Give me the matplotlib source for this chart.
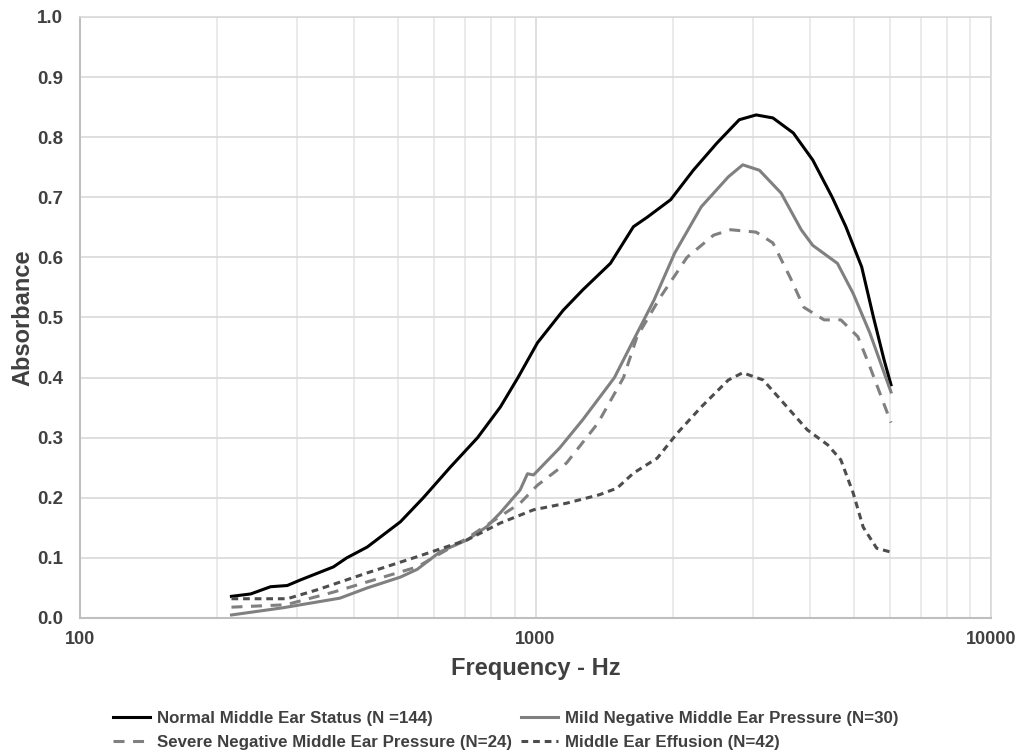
import numpy as np
import matplotlib
matplotlib.use('Agg')
import matplotlib.pyplot as plt
from matplotlib.ticker import FixedLocator, NullFormatter

# valores
f_normal = [215, 237, 262, 285, 304, 360, 385, 427, 505, 567, 650, 746, 837, 915, 1010,
            1150, 1270, 1460, 1640, 1760, 1980, 2220, 2500, 2800, 3050, 3320, 3680, 4060,
            4480, 4800, 5200, 5520, 5820, 6030]
a_normal = [0.036, 0.040, 0.052, 0.054, 0.063, 0.085, 0.100, 0.118, 0.160, 0.200, 0.251,
            0.300, 0.351, 0.400, 0.458, 0.512, 0.546, 0.590, 0.651, 0.667, 0.696, 0.745,
            0.790, 0.829, 0.837, 0.832, 0.807, 0.762, 0.700, 0.651, 0.584, 0.500, 0.430, 0.388]

f_mild = [215, 279, 372, 427, 505, 550, 617, 708, 782, 837, 925, 960, 990, 1130, 1270,
          1440, 1490, 1640, 1820, 2020, 2310, 2650, 2850, 3100, 3460, 3830, 4060, 4600,
          4980, 5420, 6030]
a_mild = [0.005, 0.017, 0.033, 0.050, 0.068, 0.081, 0.110, 0.130, 0.152, 0.175, 0.213,
          0.240, 0.238, 0.283, 0.330, 0.385, 0.400, 0.462, 0.529, 0.607, 0.684, 0.734,
          0.754, 0.745, 0.707, 0.646, 0.620, 0.590, 0.540, 0.474, 0.376]

f_severe = [215, 283, 360, 427, 550, 708, 925, 1010, 1170, 1370, 1560, 1670, 1880, 2150,
            2460, 2680, 3050, 3320, 3620, 3880, 4300, 4680, 5100, 5420, 6030]
a_severe = [0.018, 0.022, 0.043, 0.060, 0.085, 0.133, 0.191, 0.221, 0.258, 0.324, 0.400,
            0.468, 0.534, 0.600, 0.637, 0.646, 0.642, 0.624, 0.567, 0.517, 0.496, 0.496,
            0.468, 0.418, 0.325]

f_effusion = [215, 285, 332, 427, 550, 708, 837, 990, 1170, 1380, 1510, 1640, 1850, 2050,
              2310, 2650, 2850, 3160, 3500, 3950, 4380, 4680, 4980, 5240, 5610, 6000]
a_effusion = [0.032, 0.032, 0.047, 0.075, 0.102, 0.130, 0.158, 0.180, 0.191, 0.205, 0.216,
              0.241, 0.266, 0.308, 0.351, 0.396, 0.408, 0.396, 0.358, 0.313, 0.288, 0.263,
              0.208, 0.151, 0.116, 0.110]

labels = ['Normal Middle Ear Status (N =144)',
          'Mild Negative Middle Ear Pressure (N=30)',
          'Severe Negative Middle Ear Pressure (N=24)',
          'Middle Ear Effusion (N=42)']

plt.rcParams['font.family'] = ['Liberation Sans', 'DejaVu Sans']

fig = plt.figure(figsize=(10.3, 7.54), dpi=100)
ax = fig.add_axes([0.0777, 0.1804, 0.8845, 0.7971])

l1, = ax.plot(f_normal, a_normal, color='black', lw=2.2)
l2, = ax.plot(f_mild, a_mild, color='#808080', lw=2.2)
l3, = ax.plot(f_severe, a_severe, color='#808080', lw=2.2, dashes=(3.6, 2.8))
l4, = ax.plot(f_effusion, a_effusion, color='#4d4d4d', lw=2.2, dashes=(2.2, 1.6))

ax.set_xscale('log')
ax.set_xlim(100, 10000)
ax.set_ylim(0, 1.0)
ax.set_yticks(np.arange(0, 1.01, 0.1))
ax.set_yticklabels(['%.1f' % v for v in np.arange(0, 1.01, 0.1)])
ax.xaxis.set_major_locator(FixedLocator([100, 1000, 10000]))
ax.set_xticklabels(['100', '1000', '10000'])
ax.xaxis.set_minor_locator(FixedLocator([k * 10 ** e for e in (2, 3) for k in range(2, 10)]))
ax.xaxis.set_minor_formatter(NullFormatter())

ax.grid(True, which='major', color='#d9d9d9', lw=1.2)
ax.grid(True, which='minor', axis='x', color='#e6e6e6', lw=1.2)
ax.set_axisbelow(True)
ax.tick_params(which='both', length=0)
ax.tick_params(axis='y', pad=12, labelsize=13.5, labelcolor='#404040')
ax.tick_params(axis='x', pad=9.5, labelsize=13, labelcolor='#404040')
for t in ax.get_xticklabels() + ax.get_yticklabels():
    t.set_fontweight('bold')

for s in ['top', 'right']:
    ax.spines[s].set_color('#d9d9d9')
    ax.spines[s].set_linewidth(1.2)
for s in ['left', 'bottom']:
    ax.spines[s].set_color('#bfbfbf')
    ax.spines[s].set_linewidth(1.5)

ax.set_xlabel('Frequency - Hz', fontsize=17, fontweight='bold', color='#404040', labelpad=6)
ax.set_ylabel('Absorbance', fontsize=17, fontweight='bold', color='#404040')
ax.yaxis.set_label_coords(-0.05, 0.5)

leg = fig.legend([l1, l3, l2, l4], [labels[0], labels[2], labels[1], labels[3]],
                 ncol=2, loc='upper left', bbox_to_anchor=(113 / 1030, 1 - 711 / 754),
                 frameon=False, borderpad=0, borderaxespad=0,
                 prop={'weight': 'bold', 'size': 12.2},
                 handlelength=2.2, handletextpad=0.4, columnspacing=0.5,
                 labelspacing=0.55)
for t in leg.get_texts():
    t.set_color('#404040')

fig.savefig('out.png', dpi=100)
